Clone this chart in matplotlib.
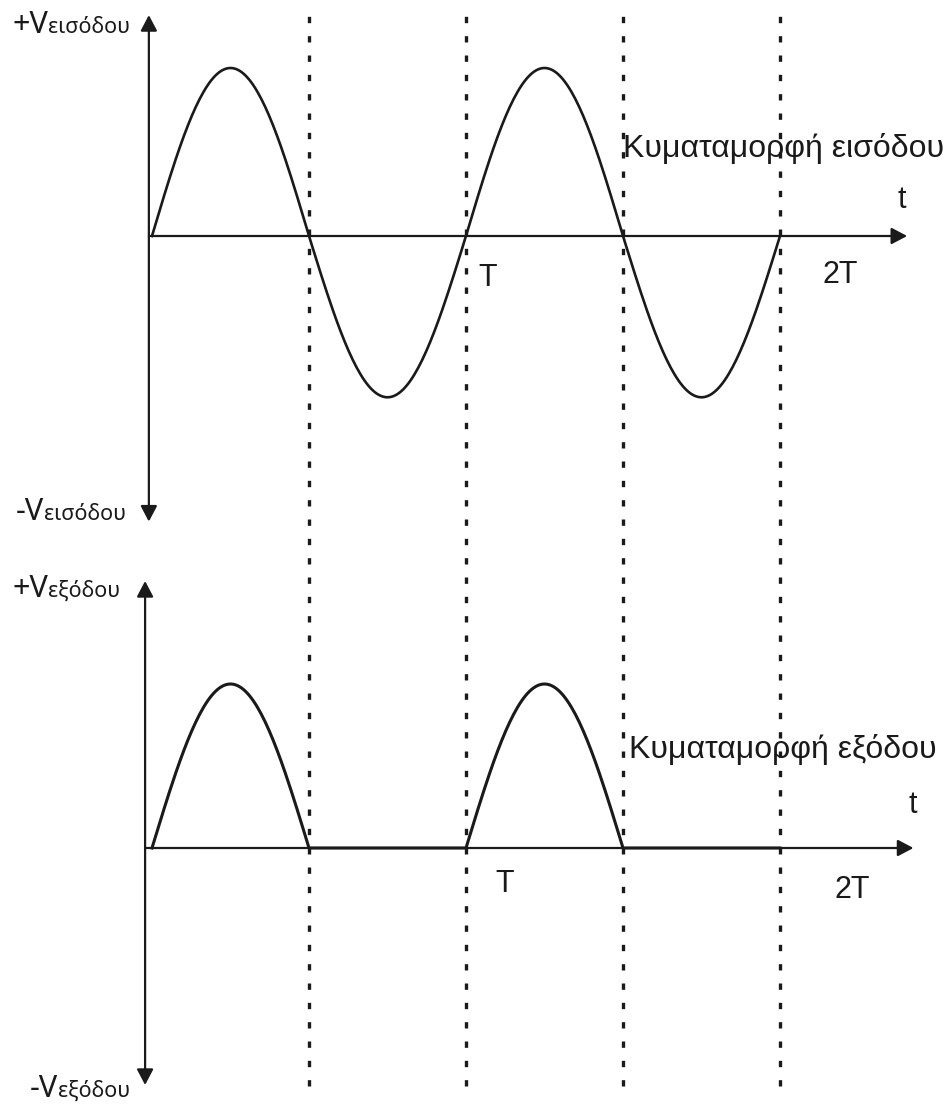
import matplotlib.pyplot as plt
import numpy as np

plt.rcParams['font.family'] = ['Liberation Sans', 'DejaVu Sans']

# time in periods T, voltage in units of the input peak
lobe_edges = [0.0, 0.5, 1.0, 1.5, 2.0]
input_peaks = [1.0, -0.96, 1.0, -0.96]
output_peaks = [1.0, 0.0, 1.0, 0.0]
marker_times = [0.5, 1.0, 1.5, 2.0]

in_label = ('+V', 'εισόδου', '-V', 'εισόδου')
out_label = ('+V', 'εξόδου', '-V', 'εξόδου')
in_title = 'Κυματαμορφή εισόδου'
out_title = 'Κυματαμορφή εξόδου'

W, H = 946, 1107
X0, PER = 152, 314          # pixel of t=0, pixels per period
xlim = (-X0 / PER, (W - X0) / PER)
INK = '#1a1a1a'


def wave(peaks):
    ts, vs = [], []
    for i, pk in enumerate(peaks):
        a, b = lobe_edges[i], lobe_edges[i + 1]
        t = np.linspace(a, b, 80)
        ts.append(t)
        vs.append(pk * np.sin(np.pi * (t - a) / (b - a)))
    return np.concatenate(ts), np.concatenate(vs)


def arrow(ax, start, end, both=False):
    style = '<|-|>' if both else '-|>'
    ax.annotate('', xy=end, xytext=start,
                arrowprops=dict(arrowstyle=style + ',head_length=0.95,head_width=0.5',
                                lw=1.6, color=INK, shrinkA=0, shrinkB=0,
                                mutation_scale=10),
                annotation_clip=False)


def vlabel(ax, t, v, main, sub):
    ax.text(t, v, main, ha='right', va='baseline', fontsize=22,
            family=['Noto Sans', 'DejaVu Sans'], color=INK)
    ax.text(t, v, sub, ha='left', va='baseline', fontsize=15.5,
            family=['Noto Sans', 'DejaVu Sans'], color=INK)


fig = plt.figure(figsize=(W / 100, H / 100), dpi=100)

# background axes for dotted period markers
bg = fig.add_axes([0, 0, 1, 1])
bg.set_xlim(xlim)
bg.set_ylim(0, 1)
bg.axis('off')
for tm in marker_times:
    bg.axvline(tm, ymin=1 - 1086 / H, ymax=1 - 10 / H, color=INK,
               lw=2.4, linestyle=(0, (1.9, 3.9)))

# input waveform
ax1 = fig.add_axes([0, 1 - 540 / H, 1, 540 / H])
ax1.set_xlim(xlim)
ax1.set_ylim(-(540 - 236) / 168, 236 / 168)
ax1.axis('off')
t, v = wave(input_peaks)
ax1.plot(t, v, color=INK, lw=1.9, clip_on=False)
arrow(ax1, (-0.01, -1.70), (-0.01, 1.315), both=True)
arrow(ax1, (-0.01, 0), (2.405, 0))
vlabel(ax1, -0.33, 1.208, in_label[0], in_label[1])
vlabel(ax1, -0.345, -1.690, in_label[2], in_label[3])
ax1.text(1.50, 0.47, in_title, fontsize=23, ha='left', va='baseline', color=INK)
ax1.text(2.388, 0.167, 't', fontsize=22, ha='center', va='baseline', color=INK)
ax1.text(1.041, -0.298, 'T', fontsize=22, ha='left', va='baseline', color=INK)
ax1.text(2.134, -0.28, '2T', fontsize=22, ha='left', va='baseline', color=INK)

# output waveform
ax2 = fig.add_axes([0, 0, 1, (H - 560) / H])
ax2.set_xlim(xlim)
ax2.set_ylim(-(H - 848) / 164, (848 - 560) / 164)
ax2.axis('off')
t, v = wave(output_peaks)
arrow(ax2, (-0.022, -1.445), (-0.022, 1.628), both=True)
arrow(ax2, (-0.022, 0), (2.425, 0))
ax2.plot(t, v, color=INK, lw=2.2, clip_on=False)
vlabel(ax2, -0.33, 1.530, out_label[0], out_label[1])
vlabel(ax2, -0.30, -1.518, out_label[2], out_label[3])
ax2.text(1.519, 0.549, out_title, fontsize=23, ha='left', va='baseline', color=INK)
ax2.text(2.424, 0.213, 't', fontsize=22, ha='center', va='baseline', color=INK)
ax2.text(1.092, -0.268, 'T', fontsize=22, ha='left', va='baseline', color=INK)
ax2.text(2.175, -0.305, '2T', fontsize=22, ha='left', va='baseline', color=INK)

fig.savefig('out.png', dpi=100, facecolor='white')
